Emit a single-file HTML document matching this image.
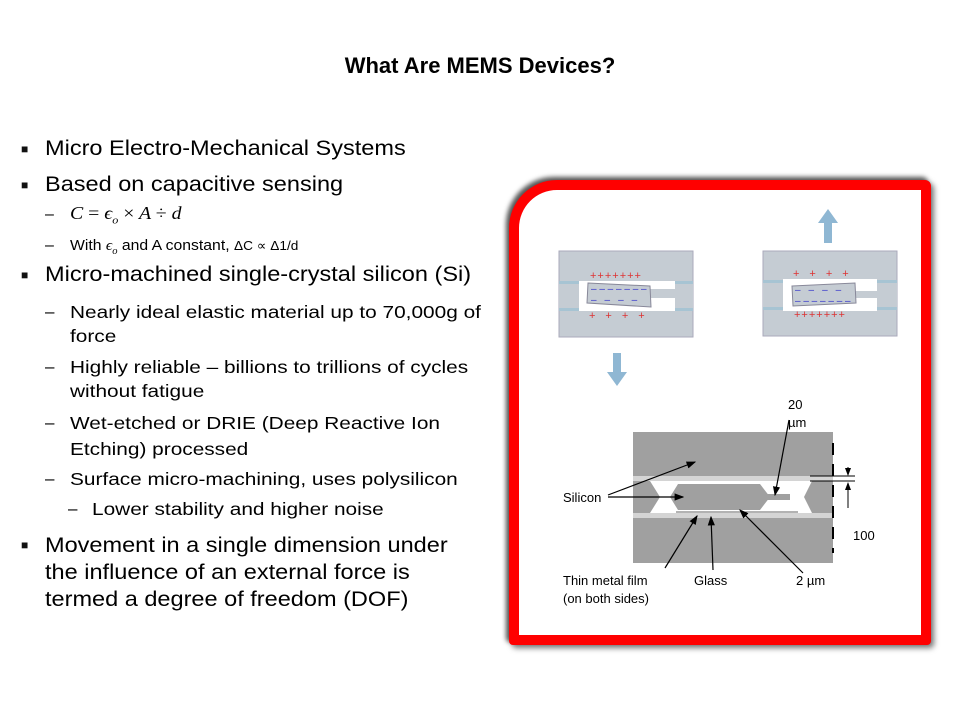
<!DOCTYPE html>
<html><head><style>
body{margin:0;width:960px;height:720px;background:#fff;position:relative;font-family:"Liberation Sans",sans-serif;overflow:hidden}
.t{position:absolute;white-space:nowrap;color:#000;transform-origin:0 0}
.b{font-size:21px;transform:scaleX(1.12)}
.s{font-size:17.5px;transform:scaleX(1.19)}
.m{position:absolute;font-size:12px;color:#111}
</style></head><body>
<div class="t" style="left:0;width:960px;text-align:center;top:53px;font-size:22px;font-weight:bold">What Are MEMS Devices?</div>

<div class="m" style="left:21px;top:142px">■</div><div class="t b" style="left:45px;top:137px">Micro Electro-Mechanical Systems</div>
<div class="m" style="left:21px;top:178px">■</div><div class="t b" style="left:45px;top:173px">Based on capacitive sensing</div>
<div class="t" style="left:45px;top:206px;font-size:16px">–</div><div class="t" style="left:70px;top:203px;font-family:'Liberation Serif',serif;font-style:italic;font-size:18px;transform:scaleX(1.1)">C <span style="font-style:normal">=</span> ϵ<sub style="font-size:11px">o</sub> <span style="font-style:normal">×</span> A <span style="font-style:normal">÷</span> d</div>
<div class="t" style="left:45px;top:237px;font-size:16px">–</div><div class="t" style="left:70px;top:237px;font-size:15px;transform:scaleX(1.05)">With <i style="font-family:'Liberation Serif',serif">ϵ<sub style="font-size:10px">o</sub></i> and A constant, <span style="font-size:13px">ΔC ∝ Δ1/d</span></div>
<div class="m" style="left:21px;top:268px">■</div><div class="t b" style="left:45px;top:263px">Micro-machined single-crystal silicon (Si)</div>
<div class="t" style="left:45px;top:302px;font-size:17px">–</div><div class="t s" style="left:70px;top:302px">Nearly ideal elastic material up to 70,000g of</div>
<div class="t s" style="left:70px;top:326px">force</div>
<div class="t" style="left:45px;top:357px;font-size:17px">–</div><div class="t s" style="left:70px;top:357px">Highly reliable – billions to trillions of cycles</div>
<div class="t s" style="left:70px;top:381px">without fatigue</div>
<div class="t" style="left:45px;top:413px;font-size:17px">–</div><div class="t s" style="left:70px;top:413px">Wet-etched or DRIE (Deep Reactive Ion</div>
<div class="t s" style="left:70px;top:439px">Etching) processed</div>
<div class="t" style="left:45px;top:469px;font-size:17px">–</div><div class="t s" style="left:70px;top:469px">Surface micro-machining,  uses polysilicon</div>
<div class="t" style="left:68px;top:499px;font-size:17px">–</div><div class="t s" style="left:92px;top:499px">Lower stability and higher noise</div>
<div class="m" style="left:21px;top:538px">■</div>
<div class="t b" style="left:45px;top:532px;line-height:27px">Movement in a single dimension under<br>the influence of an external force is<br>termed a degree of freedom (DOF)</div>

<div style="position:absolute;left:509px;top:180px;width:402px;height:445px;border:10px solid #ff0000;border-radius:48px 6px 4px 4px;box-shadow:-3px -3px 5px #555,3px 3px 6px #777;background:#fff"></div>

<svg style="position:absolute;left:0;top:0" width="960" height="720">
<defs><marker id="a" markerWidth="8" markerHeight="8" refX="7" refY="4" orient="auto"><path d="M0,1 L8,4 L0,7z" fill="#000"/></marker></defs>
<rect x="559" y="251" width="134" height="86" fill="#c5ccd3" stroke="#aab"/>
<rect x="559" y="281" width="134" height="30" fill="#a7c4d3"/>
<rect x="559" y="284" width="134" height="24" fill="#c5ccd3"/>
<rect x="579" y="281" width="83" height="30" fill="#fff"/>
<rect x="645" y="281" width="30" height="30" fill="#fff"/>
<rect x="650" y="289" width="25" height="9" fill="#c5ccd3"/>
<polygon points="588,283 650,286 651,307 587,303" fill="#c5ccd3" stroke="#889"/>
<text x="590" y="279" fill="#d33" font-size="11" font-family="Liberation Sans" letter-spacing="1">+++++++</text>
<text x="589" y="319" fill="#d33" font-size="11" font-family="Liberation Sans" letter-spacing="10">++++</text>
<text x="591" y="292" fill="#33c" font-size="10" font-family="Liberation Sans">– – – – – – –</text>
<text x="591" y="303" fill="#33c" font-size="10" font-family="Liberation Sans" letter-spacing="8">––––</text>
<rect x="763" y="251" width="134" height="85" fill="#c5ccd3" stroke="#aab"/>
<rect x="763" y="280" width="134" height="30" fill="#a7c4d3"/>
<rect x="763" y="283" width="134" height="24" fill="#c5ccd3"/>
<rect x="783" y="279" width="84" height="32" fill="#fff"/>
<rect x="860" y="279" width="17" height="32" fill="#fff"/>
<rect x="855" y="291" width="22" height="7" fill="#c5ccd3"/>
<polygon points="792,286 855,283 856,303 793,306" fill="#c5ccd3" stroke="#889"/>
<text x="793" y="277" fill="#d33" font-size="11" font-family="Liberation Sans" letter-spacing="10">++++</text>
<text x="794" y="318" fill="#d33" font-size="11" font-family="Liberation Sans" letter-spacing="1">+++++++</text>
<text x="795" y="293" fill="#33c" font-size="10" font-family="Liberation Sans" letter-spacing="8">––––</text>
<text x="795" y="304" fill="#33c" font-size="10" font-family="Liberation Sans">– – – – – – –</text>
<polygon points="828,209 838,223 832,223 832,243 824,243 824,223 818,223" fill="#8fb7d3"/>
<polygon points="613,353 621,353 621,372 627,372 617,386 607,372 613,372" fill="#8fb7d3"/>
<rect x="633" y="432" width="200" height="131" fill="#a0a0a0"/>
<rect x="633" y="476" width="200" height="5" fill="#d4d4d4"/>
<rect x="633" y="513" width="200" height="5" fill="#d4d4d4"/>
<rect x="633" y="481" width="200" height="32" fill="#fff"/>
<polygon points="633,481 650,481 660,497 650,513 633,513" fill="#a0a0a0"/>
<polygon points="833,481 812,481 804,497 812,513 833,513" fill="#a0a0a0"/>
<polygon points="678,484 760,484 770,497 760,510 678,510 670,497" fill="#a0a0a0"/>
<rect x="760" y="494" width="30" height="6" fill="#a0a0a0"/>
<line x1="676" y1="512" x2="798" y2="512" stroke="#666"/>
<line x1="833" y1="443" x2="833" y2="553" stroke="#000" stroke-width="2" stroke-dasharray="12,9"/>
<line x1="810" y1="476" x2="855" y2="476" stroke="#000"/>
<line x1="810" y1="481" x2="855" y2="481" stroke="#000"/>
<line x1="848" y1="467" x2="848" y2="475" stroke="#000" marker-end="url(#a)"/>
<line x1="848" y1="508" x2="848" y2="483" stroke="#000" marker-end="url(#a)"/>
<g font-family="Liberation Sans" font-size="13" fill="#000">
<text x="788" y="409">20</text><text x="788" y="427">µm</text>
<text x="563" y="502">Silicon</text>
<text x="853" y="540">100</text>
<text x="563" y="585">Thin metal film</text>
<text x="563" y="603">(on both sides)</text>
<text x="694" y="585">Glass</text>
<text x="796" y="585">2 µm</text>
</g>
<g stroke="#000" stroke-width="1.2" fill="none">
<line x1="608" y1="495" x2="695" y2="462" marker-end="url(#a)"/>
<line x1="608" y1="497" x2="683" y2="497" marker-end="url(#a)"/>
<line x1="789" y1="420" x2="775" y2="495" marker-end="url(#a)"/>
<line x1="665" y1="568" x2="697" y2="516" marker-end="url(#a)"/>
<line x1="713" y1="570" x2="711" y2="517" marker-end="url(#a)"/>
<line x1="803" y1="573" x2="740" y2="510" marker-end="url(#a)"/>
</g>
</svg>
</body></html>
